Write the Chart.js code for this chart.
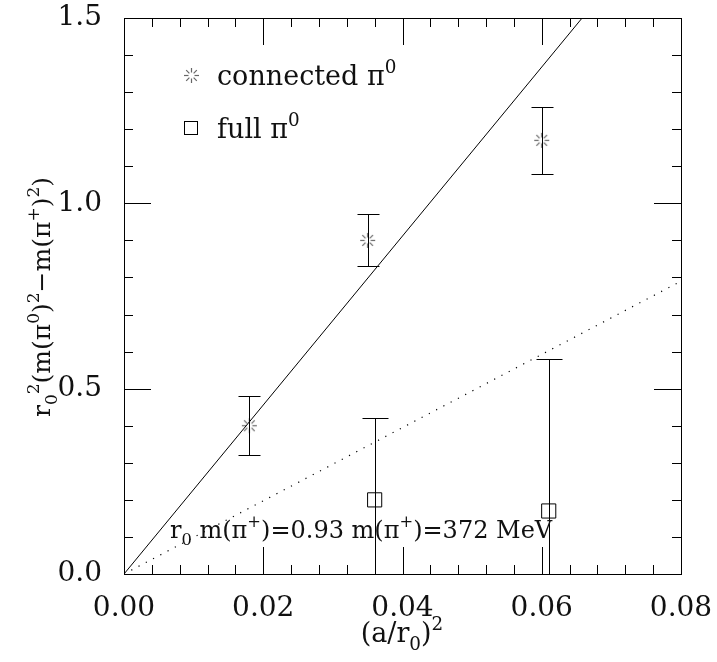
<!DOCTYPE html>
<html><head><meta charset="utf-8">
<script src="https://cdn.jsdelivr.net/npm/chart.js@4.4.1/dist/chart.umd.min.js"></script>
<style>html,body{margin:0;padding:0;background:#fff}#w{width:717px;height:662px}</style>
</head><body><div id="w"><canvas id="c" width="717" height="662"></canvas></div>
<script>
// ---- data ----
const connectedX = [0.018, 0.035, 0.060];
const connectedY = [0.40, 0.90, 1.17];
const connectedLo = [0.32, 0.83, 1.08];
const connectedHi = [0.48, 0.97, 1.26];
const fullX = [0.036, 0.061];
const fullY = [0.20, 0.17];
const fullLo = [0.0, 0.0];
const fullHi = [0.42, 0.58];
const fitSolidX = [0.0, 0.0658];
const fitSolidY = [0.0, 1.5];
const fitDotX = [0.0, 0.08];
const fitDotY = [0.0, 0.79];
const xTickLabels = [0, 0.02, 0.04, 0.06, 0.08];
const yTickLabels = [0, 0.5, 1.0, 1.5];

const FONT = '"DejaVu Serif", "Liberation Serif", serif';
const pts = (xs, ys) => xs.map((x, i) => ({x: x, y: ys[i]}));

// star-burst marker
function burst() {
  const c = document.createElement('canvas'); c.width = 17; c.height = 17;
  const g = c.getContext('2d'); g.strokeStyle = '#666'; g.lineWidth = 1.2;
  for (let k = 0; k < 8; k++) {
    const a = k * Math.PI / 4;
    const r1 = 3, r2 = 7.5;
    g.beginPath();
    g.moveTo(8.5 + r1 * Math.cos(a), 8.5 + r1 * Math.sin(a));
    g.lineTo(8.5 + r2 * Math.cos(a), 8.5 + r2 * Math.sin(a));
    g.stroke();
  }
  return c;
}

function rich(ctx, segs, x, y, F, align) {
  const widths = segs.map(s => { ctx.font = (s.s ? 0.68 * F : F) + 'px ' + FONT; return ctx.measureText(s.t).width; });
  const total = widths.reduce((a, b) => a + b, 0);
  let cx = align === 'center' ? x - total / 2 : x;
  segs.forEach((s, i) => {
    ctx.font = (s.s ? 0.68 * F : F) + 'px ' + FONT;
    const dy = s.s === 'sub' ? 0.28 * F : s.s === 'sup' ? -0.45 * F : 0;
    ctx.fillText(s.t, cx, y + dy);
    cx += widths[i];
  });
}

const decor = {
  id: 'decor',
  afterDatasetsDraw(chart) {
    const ctx = chart.ctx, xs = chart.scales.x, ys = chart.scales.y, a = chart.chartArea;
    ctx.save();
    // error bars
    ctx.strokeStyle = '#000'; ctx.lineWidth = 1;
    const eb = (xv, lo, hi, cap) => {
      for (let i = 0; i < xv.length; i++) {
        const px = Math.round(xs.getPixelForValue(xv[i])) + 0.5;
        const pl = Math.round(ys.getPixelForValue(lo[i])) + 0.5, ph = Math.round(ys.getPixelForValue(hi[i])) + 0.5;
        ctx.beginPath();
        ctx.moveTo(px, pl); ctx.lineTo(px, ph);
        ctx.moveTo(px - cap, pl); ctx.lineTo(px + cap, pl);
        ctx.moveTo(px - cap, ph); ctx.lineTo(px + cap, ph);
        ctx.stroke();
      }
    };
    eb(connectedX, connectedLo, connectedHi, 11);
    eb(fullX, fullLo, fullHi, 13);
    // frame
    ctx.strokeStyle = '#000'; ctx.lineWidth = 1;
    ctx.strokeRect(Math.round(a.left) + 0.5, Math.round(a.top) + 0.5, Math.round(a.right - a.left), Math.round(a.bottom - a.top));
    // ticks
    ctx.beginPath();
    for (let k = 0; k <= 20; k++) {
      const v = k * 0.004, px = Math.round(xs.getPixelForValue(v)) + 0.5;
      const L = (k % 5 === 0) ? 27 : 9;
      ctx.moveTo(px, a.bottom); ctx.lineTo(px, a.bottom - L);
      ctx.moveTo(px, a.top); ctx.lineTo(px, a.top + L);
    }
    for (let k = 0; k <= 15; k++) {
      const v = k * 0.1, py = Math.round(ys.getPixelForValue(v)) + 0.5;
      const L = (k % 5 === 0) ? 27 : 9;
      ctx.moveTo(a.left, py); ctx.lineTo(a.left + L, py);
      ctx.moveTo(a.right, py); ctx.lineTo(a.right - L, py);
    }
    ctx.stroke();
    // texts
    ctx.fillStyle = '#111'; ctx.textBaseline = 'alphabetic'; ctx.textAlign = 'left';
    // legend
    ctx.drawImage(burst(), 183, 67);
    rich(ctx, [{t: 'connected π'}, {t: '0', s: 'sup'}], 217, 85, 27);
    ctx.strokeRect(184.5, 121.5, 13, 13);
    rich(ctx, [{t: 'full π'}, {t: '0', s: 'sup'}], 217, 138, 27);
    // annotation
    rich(ctx, [{t: 'r'}, {t: '0', s: 'sub'}, {t: ' m(π'}, {t: '+', s: 'sup'}, {t: ')=0.93 m(π'}, {t: '+', s: 'sup'}, {t: ')=372 MeV'}], 170, 538, 24);
    // x title
    rich(ctx, [{t: '(a/r'}, {t: '0', s: 'sub'}, {t: ')'}, {t: '2', s: 'sup'}], 402, 642, 27, 'center');
    // y title
    ctx.translate(50, 297); ctx.rotate(-Math.PI / 2);
    rich(ctx, [{t: 'r'}, {t: '0', s: 'sub'}, {t: '2', s: 'sup'}, {t: '(m(π'}, {t: '0', s: 'sup'}, {t: ')'}, {t: '2', s: 'sup'}, {t: '−m(π'}, {t: '+', s: 'sup'}, {t: ')'}, {t: '2', s: 'sup'}, {t: ')'}], 0, 0, 25, 'center');
    ctx.restore();
  }
};

new Chart(document.getElementById('c'), {
  type: 'scatter',
  data: {
    datasets: [
      {label: 'fit connected', type: 'line', data: pts(fitSolidX, fitSolidY), borderColor: '#000', borderWidth: 1, pointRadius: 0, fill: false},
      {label: 'fit full', type: 'line', data: pts(fitDotX, fitDotY), borderColor: '#000', borderWidth: 1.2, borderDash: [1.2, 7], pointRadius: 0, fill: false},
      {label: 'connected π0', data: pts(connectedX, connectedY), pointStyle: burst(), pointRadius: 8},
      {label: 'full π0', data: pts(fullX, fullY), pointStyle: 'rect', pointRadius: 10, borderColor: '#000', borderWidth: 1, backgroundColor: 'rgba(0,0,0,0)'}
    ]
  },
  options: {
    responsive: false, animation: false,
    layout: {padding: {top: 18, right: 36, left: 0, bottom: 0}},
    plugins: {legend: {display: false}, tooltip: {enabled: false}},
    scales: {
      x: {
        type: 'linear', min: 0, max: 0.08,
        afterFit(s) { s.height = 88; s.paddingLeft = 0; s.paddingRight = 0; },
        afterBuildTicks(s) { s.ticks = xTickLabels.map(v => ({value: v})); },
        grid: {display: false}, border: {display: false},
        ticks: {color: '#111', font: {family: FONT, size: 28}, padding: 10, maxRotation: 0, autoSkip: false, callback: v => v.toFixed(2)}
      },
      y: {
        type: 'linear', min: 0, max: 1.5,
        afterFit(s) { s.width = 124; s.paddingTop = 0; s.paddingBottom = 0; },
        afterBuildTicks(s) { s.ticks = yTickLabels.map(v => ({value: v})); },
        grid: {display: false}, border: {display: false},
        ticks: {color: '#111', font: {family: FONT, size: 28}, padding: 14, autoSkip: false, callback: v => v.toFixed(1)}
      }
    }
  },
  plugins: [decor]
});
</script></body></html>
